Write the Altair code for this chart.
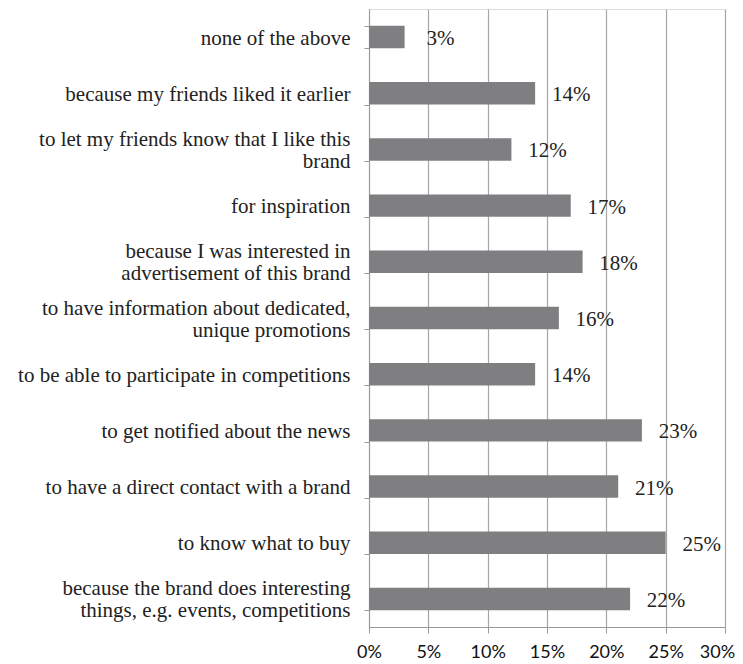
import altair as alt
import pandas as pd

categories = [
    "none of the above",
    "because my friends liked it earlier",
    "to let my friends know that I like this|brand",
    "for inspiration",
    "because I was interested in|advertisement of this brand",
    "to have information about dedicated,|unique promotions",
    "to be able to participate in competitions",
    "to get notified about the news",
    "to have a direct contact with a brand",
    "to know what to buy",
    "because the brand does interesting|things, e.g. events, competitions",
]
values = [0.03, 0.14, 0.12, 0.17, 0.18, 0.16, 0.14, 0.23, 0.21, 0.25, 0.22]
x_ticks = [0, 0.05, 0.10, 0.15, 0.20, 0.25, 0.30]

df = pd.DataFrame({"cat": categories, "val": values})

SERIF = "Liberation Serif, Times New Roman, serif"

y = alt.Y(
    "cat:N",
    sort=categories,
    title=None,
    scale=alt.Scale(paddingInner=0.6, paddingOuter=0.3),
    axis=alt.Axis(
        labelExpr="split(datum.label, '|')",
        labelFont=SERIF,
        labelFontSize=21,
        labelLineHeight=22,
        labelColor="#222222",
        labelPadding=14,
        labelOffset=alt.condition("indexof(datum.label, '|') >= 0", alt.value(-10), alt.value(1)),
        tickBand="extent",
        tickSize=5,
        tickColor="#999999",
        domainColor="#999999",
        grid=False,
        labelLimit=400,
    ),
)
x = alt.X(
    "val:Q",
    title=None,
    scale=alt.Scale(domain=[0, 0.30], nice=False),
    axis=alt.Axis(
        values=x_ticks,
        format=".0%",
        labelFont="Lato",
        labelFontSize=18,
        labelColor="#111111",
        labelPadding=10,
        labelFlush=False,
        labelOverlap=False,
        labelOffset=alt.condition("datum.value >= 0.3", alt.value(-8), alt.value(0)),
        tickSize=6,
        tickColor="#999999",
        domainColor="#999999",
        gridColor="#a6a6a6",
        gridWidth=1.2,
    ),
)

bars = alt.Chart(df).mark_bar(color="#7f7f82").encode(x=x, y=y)
labels = alt.Chart(df).mark_text(
    align="center", baseline="middle", dx=36, dy=2,
    font=SERIF, fontSize=21, color="#222222",
).encode(x=x, y=y, text=alt.Text("val:Q", format=".0%"))

chart = (
    alt.layer(bars, labels)
    .properties(
        width=356,
        height=618,
        autosize=alt.AutoSizeParams(type="none"),
        padding={"left": 361, "top": 1, "right": 10, "bottom": 40},
    )
    .configure_view(stroke=None)
    .configure(background="white")
)

chart.save("out.html", embed_options={"renderer": "svg", "actions": False})
